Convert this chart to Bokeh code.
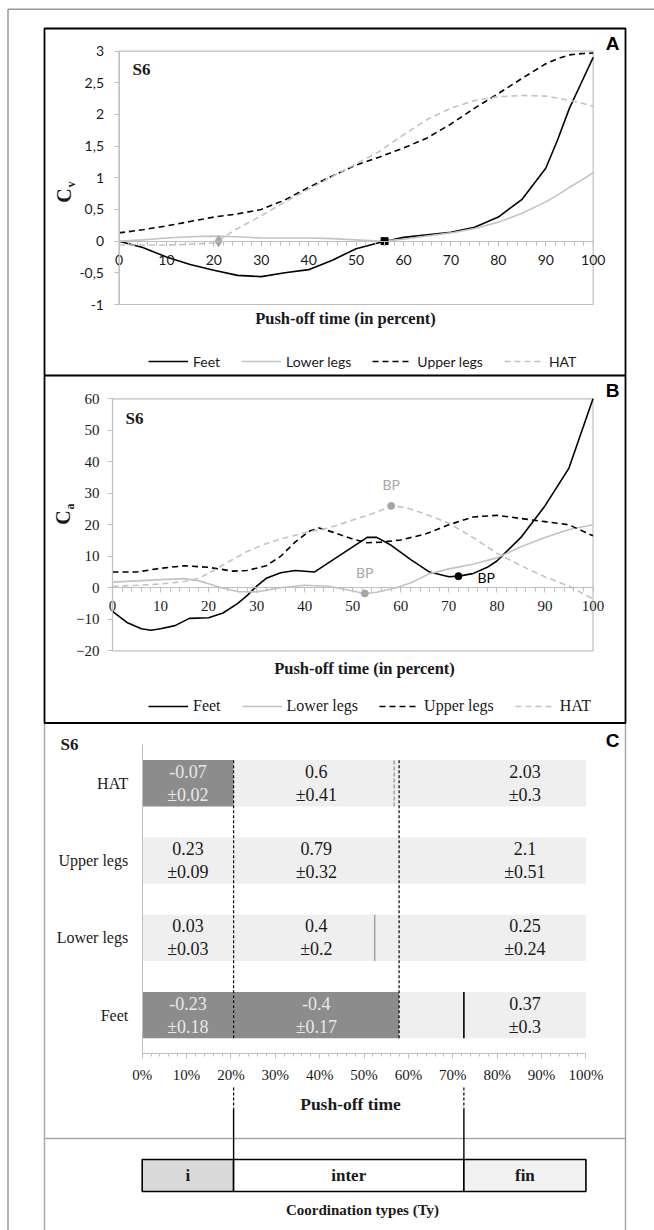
import numpy as np
from bokeh.plotting import figure
from bokeh.models import (Range1d, LinearAxis, FixedTicker, Legend, LegendItem,
                          Label, PrintfTickFormatter)
from bokeh.core.properties import value
from bokeh.embed import file_html
from bokeh.resources import INLINE

# ---------------- data ----------------
# Panel A : Cv versus push-off time (percent)
xa = [0, 5, 10, 15, 20, 25, 30, 35, 40, 45, 50, 55, 60, 65, 70, 75, 80, 85, 90, 92.5, 95, 97.5, 100]
feet_cv = [0.0, -0.1, -0.25, -0.37, -0.46, -0.54, -0.56, -0.5, -0.45, -0.3, -0.12, -0.02, 0.06, 0.1,
           0.14, 0.22, 0.38, 0.66, 1.15, 1.6, 2.1, 2.5, 2.9]
lower_cv = [0.0, 0.02, 0.05, 0.07, 0.08, 0.07, 0.05, 0.05, 0.05, 0.04, 0.02, 0.0, 0.03, 0.08,
            0.13, 0.2, 0.3, 0.44, 0.62, 0.73, 0.85, 0.96, 1.08]
upper_cv = [0.13, 0.18, 0.24, 0.31, 0.38, 0.43, 0.5, 0.65, 0.85, 1.03, 1.2, 1.33, 1.47, 1.63,
            1.85, 2.1, 2.33, 2.57, 2.8, 2.88, 2.94, 2.96, 2.97]
hat_cv = [-0.06, -0.06, -0.06, -0.05, -0.03, 0.2, 0.4, 0.62, 0.82, 1.02, 1.22, 1.42, 1.68, 1.92,
          2.1, 2.22, 2.28, 2.3, 2.29, 2.26, 2.22, 2.18, 2.13]
cv_zero_x = [21, 56]          # zero crossings marked (HAT, Feet)
cv_zero_y = [0, 0]

# Panel B : Ca versus push-off time (percent)
feet_ca_x = [0, 3, 6, 8, 10, 13, 16, 20, 23, 26, 28, 30, 32, 35, 38, 42, 45, 50, 53, 55, 58, 62, 66,
             70, 72, 75, 78, 80, 85, 90, 95, 100]
feet_ca = [-7.5, -11, -13, -13.5, -13, -12, -9.7, -9.5, -8, -5, -2.5, 0.5, 3, 4.8, 5.5, 5, 8, 13, 16,
           16, 13.5, 9, 5, 3.5, 3.7, 4.5, 6.5, 8.5, 16, 26, 38, 60]
lower_ca_x = [0, 5, 10, 15, 18, 22, 26, 30, 35, 40, 45, 50, 52.5, 55, 59, 62, 66, 70, 75, 80, 85,
              90, 95, 100]
lower_ca = [1.8, 2.2, 2.6, 2.9, 2.2, 0.3, -1.2, -1.3, 0, 0.8, 0.5, -1, -1.8, -1.4, 0, 1.5, 4.5, 6,
            7.5, 9.5, 13, 16, 18.5, 20]
upper_ca_x = [0, 5, 10, 15, 20, 25, 28, 32, 35, 38, 41, 43, 46, 50, 53, 56, 60, 65, 70, 75, 80, 85,
              90, 95, 100]
upper_ca = [5, 5, 6.2, 7, 6.5, 5.3, 5.5, 7, 10, 14.5, 18, 19, 17.6, 15.5, 14.3, 14.5, 15.2, 17, 20,
            22.5, 23, 22, 21, 20, 16.5]
hat_ca_x = [0, 5, 10, 15, 18, 21, 25, 28, 31, 35, 40, 45, 50, 55, 58, 61, 65, 70, 75, 80, 85, 90,
            95, 100]
hat_ca = [0.5, 0.8, 1.2, 2, 3, 5.5, 9, 11.5, 13.5, 15.5, 17.5, 19, 21.5, 24, 26, 25.5, 23.5, 20.5,
          16, 11, 7, 3.5, 0.5, -3.5]
bp_x = [58, 52.5, 72]          # break points: HAT, Lower legs, Feet
bp_y = [26, -1.8, 3.7]

# Panel C : mean Cv per coordination phase
rows = ["HAT", "Upper legs", "Lower legs", "Feet"]
cv_mean = [[-0.07, 0.6, 2.03], [0.23, 0.79, 2.1], [0.03, 0.4, 0.25], [-0.23, -0.4, 0.37]]
cv_sd = [[0.02, 0.41, 0.3], [0.09, 0.32, 0.51], [0.03, 0.2, 0.24], [0.18, 0.17, 0.3]]
seg_bounds = [0, 20.6, 57.9, 100]
type_bounds = [0, 20.6, 72.5, 100]
bp_c = [56.8, None, 52.4, 72.5]
types = ["i", "inter", "fin"]

a_yticks = [-1, -0.5, 0, 0.5, 1, 1.5, 2, 2.5, 3]
a_ylabels = ["-1", "-0,5", "0", "0,5", "1", "1,5", "2", "2,5", "3"]
b_yticks = [-20, -10, 0, 10, 20, 30, 40, 50, 60]
x_ticks = list(range(0, 101, 10))
x_minor = list(range(0, 101, 2))

# ---------------- layout ----------------
W, H = 654, 1230
OX, OY = 0, 0


def xmap(d0, p0, d1, p1):
    k = (p1 - p0) / (d1 - d0)
    return Range1d(start=d0 + (OX - p0) / k, end=d0 + (OX + W - p0) / k)


def ymap(d0, p0, d1, p1):
    k = (p1 - p0) / (d1 - d0)
    return Range1d(start=d0 + (OY + H - p0) / k, end=d0 + (OY - p0) / k)


p = figure(width=W, height=H, x_range=Range1d(OX, OX + W), y_range=Range1d(OY + H, OY),
           output_backend="svg", toolbar_location=None, x_axis_location=None,
           y_axis_location=None, min_border=0, outline_line_color=None)
p.min_border_left = p.min_border_right = p.min_border_top = p.min_border_bottom = 0
p.background_fill_color = "white"
p.xgrid.grid_line_color = None
p.ygrid.grid_line_color = None
for g in p.grid:
    g.visible = False

p.extra_x_ranges = {"ax": xmap(0, 118.5, 100, 592.7),
                    "bx": xmap(0, 112.0, 100, 592.5),
                    "cx": xmap(0, 141.7, 100, 585.4)}
p.extra_y_ranges = {"ay": ymap(-1, 304.0, 3, 50.6),
                    "by": ymap(-20, 650.3, 60, 398.3),
                    "cy": ymap(0, 1053.3, 4, 744.1)}

GRID = "#bfbfbf"
LGRAY = "#c3c3c3"
MGRAY = "#a6a6a6"
SERIF = "Liberation Serif"
SANS = "Lato"

# ---- frames (page coordinates) ----
p.segment(x0=[7.5, 7.5], y0=[8.7, 8.7], x1=[7.5, 700], y1=[1300, 8.7], line_color="#9a9a9a",
          line_width=1.5)
p.segment(x0=[44, 625, 44], y0=[722.5, 722.5, 1138], x1=[44, 625, 625], y1=[1300, 1300, 1138],
          line_color="#a8a8a8", line_width=1.5)
p.quad(left=44, right=625, top=28, bottom=722.5, fill_color=None, line_color="black", line_width=1.8)
p.segment(x0=[44], y0=[375], x1=[625], y1=[375], line_color="black", line_width=1.8)


def add_axes(xr, yr, yticks, ylabels, tick_font, tick_size, xstand, ystand, xbounds, ybounds):
    ya = LinearAxis(x_range_name=xr, y_range_name=yr, fixed_location=0, bounds=ybounds,
                    ticker=FixedTicker(ticks=yticks))
    if ylabels is not None:
        ya.major_label_overrides = dict(zip(yticks, ylabels))
    ya.axis_line_color = GRID
    ya.major_tick_line_color = GRID
    ya.major_tick_out = 5
    ya.major_tick_in = 0
    ya.minor_tick_line_color = None
    ya.major_label_standoff = ystand
    ya.major_label_text_font = tick_font
    ya.major_label_text_font_size = tick_size
    ya.major_label_text_color = "#1a1a1a"
    p.add_layout(ya, "left")
    xa_ = LinearAxis(x_range_name=xr, y_range_name=yr, fixed_location=0, bounds=xbounds,
                     ticker=FixedTicker(ticks=x_ticks, minor_ticks=x_minor))
    xa_.axis_line_color = GRID
    xa_.major_tick_line_color = GRID
    xa_.minor_tick_line_color = GRID
    xa_.major_tick_out = 5
    xa_.major_tick_in = 0
    xa_.minor_tick_out = 4
    xa_.minor_tick_in = 0
    xa_.major_label_standoff = xstand
    xa_.major_label_text_font = tick_font
    xa_.major_label_text_font_size = tick_size
    xa_.major_label_text_color = "#1a1a1a"
    p.add_layout(xa_, "below")
    return xa_, ya


# ---------------- Panel A ----------------
p.quad(left=x_ticks[0], right=x_ticks[-1], bottom=a_yticks[0], top=a_yticks[-1], fill_color=None,
       line_color=GRID, line_width=1.2, x_range_name="ax", y_range_name="ay")
add_axes("ax", "ay", a_yticks, a_ylabels, SANS, "14px", 9, 10, (0, 100), (a_yticks[0], a_yticks[-1]))

kw_a = dict(x_range_name="ax", y_range_name="ay", line_width=1.6)
ra_feet = p.line(xa, feet_cv, line_color="black", **kw_a)
ra_lower = p.line(xa, lower_cv, line_color=LGRAY, **kw_a)
ra_upper = p.line(xa, upper_cv, line_color="black", line_dash="6 4", **kw_a)
ra_hat = p.line(xa, hat_cv, line_color=LGRAY, line_dash="6 4", **kw_a)
p.scatter(cv_zero_x[:1], cv_zero_y[:1], marker="diamond", size=11, color=MGRAY,
          x_range_name="ax", y_range_name="ay")
p.scatter(cv_zero_x[1:], cv_zero_y[1:], marker="square", size=7, color="black",
          x_range_name="ax", y_range_name="ay")

leg_a = Legend(items=[LegendItem(label="Feet", renderers=[ra_feet]),
                      LegendItem(label="Lower legs", renderers=[ra_lower]),
                      LegendItem(label="Upper legs", renderers=[ra_upper]),
                      LegendItem(label="HAT", renderers=[ra_hat])],
               orientation="horizontal", location=(148 - OX, OY + H - 370),
               glyph_width=40, glyph_height=18, label_height=18, label_standoff=5, spacing=21,
               padding=0, margin=0, border_line_color=None, background_fill_alpha=0,
               label_text_font=SANS, label_text_font_size="14px", label_text_color="#1a1a1a")
p.add_layout(leg_a)

# ---------------- Panel B ----------------
p.quad(left=x_ticks[0], right=x_ticks[-1], bottom=b_yticks[0], top=b_yticks[-1], fill_color=None,
       line_color=GRID, line_width=1.2, x_range_name="bx", y_range_name="by")
add_axes("bx", "by", b_yticks, None, SERIF, "15px", 8, 8, (0, 100), (b_yticks[0], b_yticks[-1]))

kw_b = dict(x_range_name="bx", y_range_name="by", line_width=1.6)
rb_feet = p.line(feet_ca_x, feet_ca, line_color="black", **kw_b)
rb_lower = p.line(lower_ca_x, lower_ca, line_color=LGRAY, **kw_b)
rb_upper = p.line(upper_ca_x, upper_ca, line_color="black", line_dash="6 4", **kw_b)
rb_hat = p.line(hat_ca_x, hat_ca, line_color=LGRAY, line_dash="6 4", **kw_b)
p.scatter(bp_x, bp_y, size=7, color=[MGRAY, MGRAY, "black"], x_range_name="bx", y_range_name="by")
p.text(bp_x[:2], bp_y[:2], text=["BP", "BP"], x_offset=0, y_offset=-21, text_align="center",
       text_baseline="middle", text_color=MGRAY, text_font=value(SANS), text_font_size="14px",
       x_range_name="bx", y_range_name="by")
p.text(bp_x[2:], bp_y[2:], text=["BP"], x_offset=19, y_offset=1, text_align="left",
       text_baseline="middle", text_color="black", text_font=value(SANS), text_font_size="14px",
       x_range_name="bx", y_range_name="by")

leg_b = Legend(items=[LegendItem(label="Feet", renderers=[rb_feet]),
                      LegendItem(label="Lower legs", renderers=[rb_lower]),
                      LegendItem(label="Upper legs", renderers=[rb_upper]),
                      LegendItem(label="HAT", renderers=[rb_hat])],
               orientation="horizontal", location=(148 - OX, OY + H - 715),
               glyph_width=40, glyph_height=18, label_height=18, label_standoff=5, spacing=21,
               padding=0, margin=0, border_line_color=None, background_fill_alpha=0,
               label_text_font=SERIF, label_text_font_size="16px", label_text_color="#1a1a1a")
p.add_layout(leg_b)

# ---------------- Panel C ----------------
n = len(rows)
row_y = [n - 1 - i + 0.5 for i in range(n)]
HALF = 0.3
DARK, LIGHT = "#8c8c8c", "#efefef"
left, right, bottom, top, fill = [], [], [], [], []
tx, ty, tt, tc = [], [], [], []
for i, r in enumerate(rows):
    for j in range(3):
        left.append(seg_bounds[j]); right.append(seg_bounds[j + 1])
        bottom.append(row_y[i] - HALF); top.append(row_y[i] + HALF)
        neg = cv_mean[i][j] < 0
        fill.append(DARK if neg else LIGHT)
        if j < 2:
            cx = (seg_bounds[j] + seg_bounds[j + 1]) / 2
        else:
            cx = (type_bounds[2] + type_bounds[3]) / 2
        tx.append(cx); ty.append(row_y[i])
        tt.append(f"{cv_mean[i][j]}\n\u00b1{cv_sd[i][j]}")
        tc.append("#e8e8e8" if neg else "#1a1a1a")
p.quad(left=left, right=right, bottom=bottom, top=top, fill_color=fill, line_color=None,
       x_range_name="cx", y_range_name="cy")

# axes of panel C
cya = LinearAxis(x_range_name="cx", y_range_name="cy", fixed_location=0, bounds=(0, n),
                 ticker=FixedTicker(ticks=row_y), major_label_overrides=dict(zip(row_y, rows)))
cya.axis_line_color = GRID
cya.major_tick_line_color = None
cya.minor_tick_line_color = None
cya.major_tick_out = 0
cya.major_label_standoff = 14
cya.major_label_text_font = SERIF
cya.major_label_text_font_size = "16px"
cya.major_label_text_color = "#1a1a1a"
p.add_layout(cya, "left")
cxa = LinearAxis(x_range_name="cx", y_range_name="cy", fixed_location=0, bounds=(0, 100),
                 ticker=FixedTicker(ticks=x_ticks, minor_ticks=x_minor),
                 formatter=PrintfTickFormatter(format="%d%%"))
cxa.axis_line_color = GRID
cxa.major_tick_line_color = GRID
cxa.minor_tick_line_color = GRID
cxa.major_tick_out = 5
cxa.major_tick_in = 0
cxa.minor_tick_out = 3
cxa.minor_tick_in = 0
cxa.major_label_standoff = 8
cxa.major_label_text_font = SERIF
cxa.major_label_text_font_size = "15px"
cxa.major_label_text_color = "#1a1a1a"
p.add_layout(cxa, "below")

# phase borders within panel C
p.segment(x0=seg_bounds[1:3], x1=seg_bounds[1:3], y0=[row_y[-1] - HALF] * 2, y1=[row_y[0] + HALF] * 2,
          line_color="black", line_width=1.2, line_dash="3 2", x_range_name="cx", y_range_name="cy")
# break points within panel C
bp_styles = {"HAT": (MGRAY, "4 2"), "Lower legs": (MGRAY, "solid"), "Feet": ("black", "solid")}
for i, r in enumerate(rows):
    if bp_c[i] is None:
        continue
    col, dash = bp_styles[r]
    p.segment(x0=[bp_c[i]], x1=[bp_c[i]], y0=[row_y[i] - HALF], y1=[row_y[i] + HALF],
              line_color=col, line_width=1.6, line_dash=dash, x_range_name="cx", y_range_name="cy")

p.text(tx, ty, text=tt, text_color=tc, text_align="center", text_baseline="middle",
       text_font=value(SERIF), text_font_size="18px", text_line_height=1.15,
       x_range_name="cx", y_range_name="cy")


def cy(page_y):
    return (1053.3 - page_y) / ((1053.3 - 744.1) / 4)


# ---------------- Panel D (coordination types) ----------------
d_top, d_bot = cy(1159), cy(1191)
p.segment(x0=type_bounds[1:3], x1=type_bounds[1:3], y0=[cy(1087)] * 2, y1=[cy(1108)] * 2,
          line_color="black", line_width=1.2, line_dash="3 2", x_range_name="cx", y_range_name="cy")
p.segment(x0=type_bounds[1:3], x1=type_bounds[1:3], y0=[cy(1108)] * 2, y1=[d_top] * 2,
          line_color="black", line_width=1.4, x_range_name="cx", y_range_name="cy")
p.quad(left=type_bounds[:-1], right=type_bounds[1:], bottom=d_bot, top=d_top,
       fill_color=["#d9d9d9", "white", "#f2f2f2"], line_color="black", line_width=1.6,
       x_range_name="cx", y_range_name="cy")
p.text([(a + b) / 2 for a, b in zip(type_bounds[:-1], type_bounds[1:])], [(d_top + d_bot) / 2] * 3,
       text=types, text_align="center", text_baseline="middle", text_font=value(SERIF),
       text_font_style="bold", text_font_size="17px", text_color="#1a1a1a",
       x_range_name="cx", y_range_name="cy")

# ---------------- titles / labels (page coordinates) ----------------


def lab(x, y, text, font=SERIF, size="16px", style="bold", align="center", angle=0, color="#1a1a1a"):
    p.add_layout(Label(x=x, y=y, text=text, text_font=font, text_font_size=size,
                       text_font_style=style, text_align=align, text_baseline="middle",
                       angle=angle, text_color=color))


lab(345, 318, "Push-off time (in percent)", size="16.5px")
lab(364, 668, "Push-off time (in percent)", size="16.5px")
lab(350, 1103, "Push-off time", size="17.5px")
lab(362, 1209, "Coordination types (Ty)", size="15px")
lab(141, 69, "S6", size="17px")
lab(134, 418, "S6", size="17px")
lab(69, 744, "S6", size="17px")
lab(612, 43, "A", font="Liberation Sans", size="19px", color="black")
lab(612, 390, "B", font="Liberation Sans", size="19px", color="black")
lab(612, 740, "C", font="Liberation Sans", size="19px", color="black")
lab(63, 195, "C", size="20px", angle=np.pi / 2)
lab(70.5, 184, "v", size="12px", angle=np.pi / 2)
lab(62, 517, "C", size="20px", angle=np.pi / 2)
lab(69.5, 506, "a", size="12px", angle=np.pi / 2)

open("out.html", "w").write(file_html(p, INLINE))
